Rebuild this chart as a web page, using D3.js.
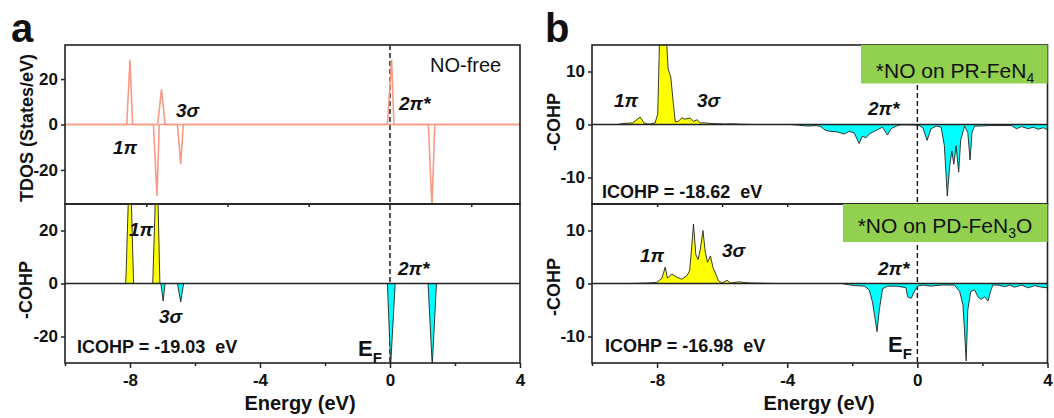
<!DOCTYPE html>
<html>
<head>
<meta charset="utf-8">
<script src="https://cdn.jsdelivr.net/npm/d3@7"></script>
<style>
  body { margin: 0; background: #fff; }
  svg { font-family: Arial, "Liberation Sans", sans-serif; }
  .tick text { font-weight: bold; font-size: 17px; fill: #111; }
  .note { font-weight: bold; font-style: italic; font-size: 19px; fill: #111; }
  .icohp { font-weight: bold; font-size: 18px; fill: #111; white-space: pre; }
  .title { font-weight: bold; font-size: 18px; fill: #111; }
</style>
</head>
<body>
<svg width="1054" height="418"></svg>
<script>
// energies in eV
let energyTicks = [-8, -4, 0, 4]
let energyMinor = [-10, -6, -2, 2]

// NO-free TDOS, spin up / spin down
let tdosUp = [[-10,0],[-8.1,0],[-8.0,28.5],[-7.92,0],[-7.15,0],[-7.03,15.5],[-6.92,0],[-0.08,0],[0.05,28.5],[0.12,0],[4,0]]
let tdosDown = [[-10,0],[-7.28,0],[-7.17,-31.5],[-7.1,0],[-6.54,0],[-6.44,-17.5],[-6.36,0],[1.18,0],[1.29,-36],[1.38,0],[4,0]]

// NO-free -COHP
let cohpFree = [[-10,0],[-8.13,0],[-8.05,32],[-7.96,32],[-7.89,0],[-7.3,0],[-7.22,32],[-7.14,32],[-7.08,0],[-7.05,0],
  [-6.98,-6.6],[-6.92,0],[-6.54,0],[-6.44,-7],[-6.35,0],[-0.08,0],[0.02,-31],[0.16,0],[1.17,0],[1.3,-31],[1.43,0],[4,0]]

// *NO on PR-FeN4 -COHP
let cohpPR = [[-10,0],[-9.2,0],[-9.04,0.2],[-8.75,0.3],[-8.52,1.4],[-8.4,0.3],[-8.3,0.1],[-8.2,0.1],[-8.06,0.3],[-7.98,2],
  [-7.92,17],[-7.82,18],[-7.72,17],[-7.66,10.5],[-7.58,9],[-7.5,4],[-7.44,0.5],[-7.34,0.6],[-7.24,1.3],[-7.16,1.0],
  [-7.08,1.1],[-6.98,1.2],[-6.88,0.6],[-6.77,0.9],[-6.67,0.3],[-6.5,0.3],[-6.36,0.2],[-6.16,0.15],[-5.9,0.1],[-5.75,0.15],
  [-5.4,0.05],[-5.0,0],[-3.9,0],[-3.69,-0.1],[-3.38,-0.3],[-3.1,-0.2],[-2.97,-0.4],[-2.82,-1.1],[-2.66,-1.3],[-2.46,-1.4],
  [-2.25,-1.8],[-2.1,-1.3],[-1.94,-1.6],[-1.79,-3.6],[-1.69,-2.2],[-1.58,-2.5],[-1.48,-1.8],[-1.33,-1.3],[-1.17,-0.8],
  [-1.07,-0.5],[-0.92,-2.0],[-0.81,-0.8],[-0.71,-0.5],[-0.61,-0.2],[-0.5,-0.05],[-0.1,-0.1],[0.05,-0.2],[0.17,-0.6],
  [0.3,-3.0],[0.42,-0.8],[0.58,-0.3],[0.73,-0.5],[0.83,-4],[0.92,-13.5],[0.99,-8],[1.06,-5],[1.12,-7.5],[1.19,-4],
  [1.27,-9],[1.33,-3],[1.45,-0.3],[1.55,-1.5],[1.62,-6.7],[1.68,-1.5],[1.76,-0.3],[1.91,-0.3],[2.2,-0.2],[2.48,-0.2],
  [2.89,-0.2],[3.05,-0.8],[3.2,-0.4],[3.41,-0.8],[3.56,-0.5],[3.71,-0.9],[3.87,-0.6],[4.0,-1.0]]

// *NO on PD-FeN3O -COHP
let cohpPD = [[-10,0],[-8.83,0],[-8.27,0.1],[-8.01,0.2],[-7.85,1.0],[-7.75,3.1],[-7.68,1.0],[-7.55,1.8],[-7.39,1.2],
  [-7.24,0.8],[-7.08,1.5],[-7.0,2.4],[-6.96,5],[-6.88,11.2],[-6.81,5.5],[-6.74,4.5],[-6.67,6.5],[-6.59,10.0],[-6.52,6],
  [-6.45,4],[-6.36,5.2],[-6.28,3.0],[-6.21,2.0],[-6.11,0.5],[-6.0,0.1],[-5.85,0.6],[-5.75,0.1],[-5.49,0.3],[-5.13,0.1],
  [-4.72,0.05],[-4.4,0],[-2.3,0],[-2.25,-0.1],[-1.94,-0.4],[-1.63,-0.5],[-1.48,-1.2],[-1.38,-3.5],[-1.29,-7],[-1.24,-9.1],
  [-1.17,-5],[-1.07,-1],[-0.92,-0.5],[-0.61,-0.5],[-0.35,-0.8],[-0.3,-2.5],[-0.19,-2.8],[-0.09,-1.5],[0.01,-0.5],
  [0.17,-0.3],[0.42,-0.5],[0.73,-0.3],[1.14,-0.3],[1.3,-1.5],[1.4,-4],[1.45,-9],[1.5,-14.6],[1.55,-5],[1.64,-1.5],
  [1.76,-1.2],[1.86,-2.5],[1.96,-3],[2.07,-2.5],[2.17,-3.3],[2.25,-1.5],[2.32,-0.3],[2.48,-0.3],[2.69,-0.6],[2.84,-0.3],
  [2.99,-0.7],[3.2,-0.3],[3.41,-0.8],[3.61,-0.4],[3.82,-0.7],[4.0,-0.8]]

let icohpText = ["ICOHP = -19.03  eV", "ICOHP = -18.62  eV", "ICOHP = -16.98  eV"]

let svg = d3.select('svg')

// Layout
let rowTop = { y0: 45, y1: 204 }
let rowBot = { y0: 204, y1: 363 }
let xa = d3.scaleLinear().domain([-10, 4]).range([65, 520])
let xb = d3.scaleLinear().domain([-10, 4]).range([592, 1047.5])

let clipId = 0
function panel(x, rows, domainY, yTicks, xTicks, xTickLen) {
    let y = d3.scaleLinear().domain(domainY).range([rows.y1, rows.y0])
    let g = svg.append('g')
    let id = 'clip' + (clipId++)
    svg.append('clipPath').attr('id', id)
        .append('rect')
        .attr('x', x.range()[0]).attr('y', rows.y0)
        .attr('width', x.range()[1] - x.range()[0]).attr('height', rows.y1 - rows.y0)
    let inner = g.append('g').attr('clip-path', `url(#${id})`)

    // Y axis
    g.append('g')
        .attr('transform', `translate(${x.range()[0]},0)`)
        .call(d3.axisLeft(y).tickValues(yTicks).tickSize(4).tickPadding(3).tickFormat(d => d))
        .call(a => a.select('.domain').remove())
        .call(a => a.selectAll('line').attr('stroke', '#222').attr('stroke-width', 1.5))

    // small ticks on bottom edge
    g.append('g')
        .attr('transform', `translate(0,${rows.y1})`)
        .call(d3.axisBottom(x).tickValues(xTicks).tickSize(xTickLen).tickFormat(''))
        .call(a => a.select('.domain').remove())
        .call(a => a.selectAll('line').attr('stroke', '#222').attr('stroke-width', 1.5))

    return { y: y, g: g, inner: inner, x: x }
}

function frame(p, rows) {
    p.g.append('rect')
        .attr('x', p.x.range()[0]).attr('y', rows.y0)
        .attr('width', p.x.range()[1] - p.x.range()[0]).attr('height', rows.y1 - rows.y0)
        .attr('fill', 'none').attr('stroke', '#222').attr('stroke-width', 1.6)
}

function cohp(p, data) {
    let pos = d3.area().x(d => p.x(d[0])).y0(p.y(0)).y1(d => p.y(Math.max(d[1], 0)))
    let neg = d3.area().x(d => p.x(d[0])).y0(p.y(0)).y1(d => p.y(Math.min(d[1], 0)))
    p.inner.append('path').datum(data).attr('d', pos).attr('fill', '#ffff00')
    p.inner.append('path').datum(data).attr('d', neg).attr('fill', '#00ffff')
    p.inner.append('line')
        .attr('x1', p.x(-10)).attr('x2', p.x(4))
        .attr('y1', p.y(0)).attr('y2', p.y(0))
        .attr('stroke', '#222').attr('stroke-width', 1.5)
    let line = d3.line().x(d => p.x(d[0])).y(d => p.y(d[1]))
    p.inner.append('path').datum(data).attr('d', line)
        .attr('fill', 'none').attr('stroke', '#222').attr('stroke-width', 0.9)
}

function bottomAxis(p, rows) {
    p.g.append('g')
        .attr('transform', `translate(0,${rows.y1})`)
        .call(d3.axisBottom(p.x).tickValues(energyTicks).tickSize(5).tickPadding(6).tickFormat(d => d))
        .call(a => a.select('.domain').remove())
        .call(a => a.selectAll('line').attr('stroke', '#222').attr('stroke-width', 1.5))
    p.g.append('g')
        .attr('transform', `translate(0,${rows.y1})`)
        .call(d3.axisBottom(p.x).tickValues(energyMinor).tickSize(3).tickFormat(''))
        .call(a => a.select('.domain').remove())
        .call(a => a.selectAll('line').attr('stroke', '#222').attr('stroke-width', 1.5))
}

function fermi(x) {
    svg.append('line')
        .attr('x1', x(0)).attr('x2', x(0))
        .attr('y1', rowTop.y0).attr('y2', rowBot.y1)
        .attr('stroke', '#111').attr('stroke-width', 1.4)
        .attr('stroke-dasharray', '5,3')
}

function note(t, x, y, cls) {
    return svg.append('text').attr('class', cls || 'note').attr('x', x).attr('y', y).text(t)
}

function ef(x, y) {
    let t = svg.append('text').attr('x', x).attr('y', y)
        .style('font-weight', 'bold').style('font-size', '22px').attr('fill', '#111')
    t.append('tspan').text('E')
    t.append('tspan').attr('dy', 7).style('font-size', '15px').text('F')
}

function greenBox(x0, x1, y0, y1, main, sub, tail, cx, base) {
    svg.append('rect').attr('x', x0).attr('y', y0).attr('width', x1 - x0).attr('height', y1 - y0)
        .attr('fill', '#92d050')
    let t = svg.append('text').attr('x', cx).attr('y', base).attr('text-anchor', 'middle')
        .style('font-size', '21px').attr('fill', '#111')
    t.append('tspan').text(main)
    t.append('tspan').attr('dy', 5).style('font-size', '14px').text(sub)
    if (tail) t.append('tspan').attr('dy', -5).text(tail)
}

// ---------- Panel a ----------
fermi(xa)
let aTop = panel(xa, rowTop, [-35, 35], [-20, 0, 20], [-7.5, -5, -2.5, 2.5], 3)
let tdosLine = d3.line().x(d => xa(d[0])).y(d => aTop.y(d[1]))
aTop.inner.append('path').datum(tdosDown).attr('d', tdosLine)
    .attr('fill', 'none').attr('stroke', '#f99a84').attr('stroke-width', 1.6)
aTop.inner.append('path').datum(tdosUp).attr('d', tdosLine)
    .attr('fill', 'none').attr('stroke', '#f99a84').attr('stroke-width', 1.6)
frame(aTop, rowTop)

let aBot = panel(xa, rowBot, [-30, 30], [-20, 0, 20], [], 0)
cohp(aBot, cohpFree)
frame(aBot, rowBot)
bottomAxis(aBot, rowBot)

// ---------- Panel b ----------
fermi(xb)
let bTop = panel(xb, rowTop, [-15, 15], [-10, 0, 10], [-8, -6, -4, -2, 0, 2], 3)
cohp(bTop, cohpPR)
frame(bTop, rowTop)

let bBot = panel(xb, rowBot, [-15, 15], [-10, 0, 10], [], 0)
cohp(bBot, cohpPD)
frame(bBot, rowBot)
bottomAxis(bBot, rowBot)

greenBox(861, 1047.5, 45, 83.5, '*NO on PR-FeN', '4', '', 955, 78)
greenBox(843, 1047.5, 204, 242, '*NO on PD-FeN', '3', 'O', 945, 233)

// ---------- Texts ----------
svg.append('text').attr('x', 11).attr('y', 42).text('a')
    .style('font-weight', 'bold').style('font-size', '40px').attr('fill', '#111')
svg.append('text').attr('x', 545).attr('y', 42).text('b')
    .style('font-weight', 'bold').style('font-size', '40px').attr('fill', '#111')

function yTitle(t, x, y) {
    svg.append('text').attr('class', 'title').attr('text-anchor', 'middle')
        .attr('transform', `translate(${x},${y}) rotate(-90)`).text(t)
}
yTitle('TDOS (States/eV)', 33, 128)
yTitle('-COHP', 32, 290)
yTitle('-COHP', 560, 122)
yTitle('-COHP', 560, 287)

svg.append('text').attr('class', 'title').attr('text-anchor', 'middle')
    .attr('x', 300).attr('y', 410).style('font-size', '20px').text('Energy (eV)')
svg.append('text').attr('class', 'title').attr('text-anchor', 'middle')
    .attr('x', 819).attr('y', 410).style('font-size', '20px').text('Energy (eV)')

note('NO-free', 430, 72).attr('class', null).style('font-size', '20px').attr('fill', '#111')
note('1\u03c0', 113, 154)
note('3\u03c3', 176, 117)
note('2\u03c0*', 399, 110)
note('1\u03c0', 129, 236)
note('2\u03c0*', 398, 275)
note('3\u03c3', 159, 323)
note(icohpText[0], 77, 353, 'icohp')
ef(358, 356)

note('1\u03c0', 614, 107)
note('3\u03c3', 697, 107)
note('2\u03c0*', 868, 115)
note(icohpText[1], 602, 198, 'icohp')

note('1\u03c0', 640, 262)
note('3\u03c3', 722, 257)
note('2\u03c0*', 878, 275)
note(icohpText[2], 605, 352, 'icohp')
ef(888, 352)
</script>
</body>
</html>
